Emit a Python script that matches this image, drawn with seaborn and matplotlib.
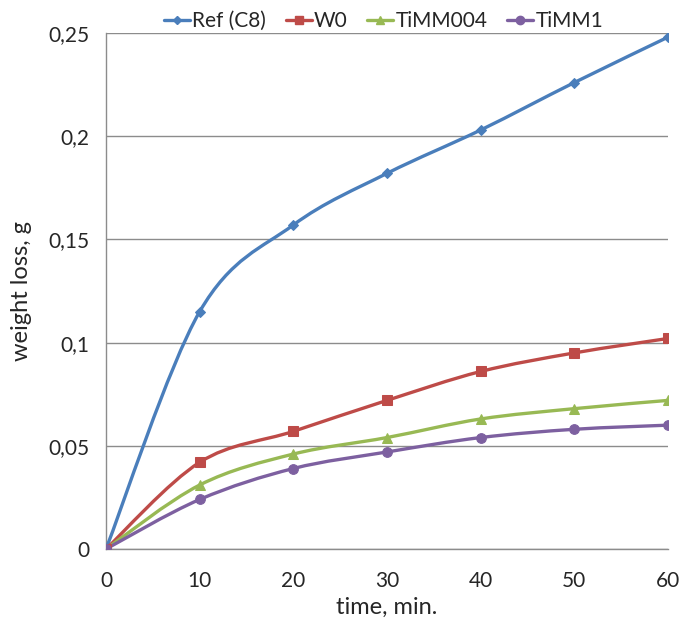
import numpy as np
import matplotlib
matplotlib.use("Agg")
import matplotlib.pyplot as plt
import seaborn as sns
from matplotlib.path import Path
from matplotlib.patches import PathPatch
from matplotlib.lines import Line2D

# data
time_min = [0, 10, 20, 30, 40, 50, 60]
ref_c8 = [0, 0.115, 0.157, 0.182, 0.203, 0.226, 0.248]
w0 = [0, 0.042, 0.057, 0.072, 0.086, 0.095, 0.102]
timm004 = [0, 0.031, 0.046, 0.054, 0.063, 0.068, 0.072]
timm1 = [0, 0.024, 0.039, 0.047, 0.054, 0.058, 0.060]

series_names = ["Ref (C8)", "W0", "TiMM004", "TiMM1"]
series_values = [ref_c8, w0, timm004, timm1]
colors = ["#4A7EBB", "#BE4B48", "#98B954", "#7D60A0"]
markers = ["D", "s", "^", "o"]
msizes = [5, 7, 7, 7]


def smooth_path(x, y, sx, sy):
    """Excel-like smoothed line: cubic Bezier through points, tangents
    computed in (roughly) screen space so the shape matches."""
    px = np.asarray(x, float) * sx
    py = np.asarray(y, float) * sy
    n = len(px)
    verts = [(px[0], py[0])]
    codes = [Path.MOVETO]
    for i in range(n - 1):
        p0 = np.array([px[max(i - 1, 0)], py[max(i - 1, 0)]])
        p1 = np.array([px[i], py[i]])
        p2 = np.array([px[i + 1], py[i + 1]])
        p3 = np.array([px[min(i + 2, n - 1)], py[min(i + 2, n - 1)]])
        c1 = p1 + (p2 - p0) / 6
        c2 = p2 - (p3 - p1) / 6
        verts += [tuple(c1), tuple(c2), tuple(p2)]
        codes += [Path.CURVE4] * 3
    verts = [(vx / sx, vy / sy) for vx, vy in verts]
    return Path(verts, codes)


sns.set_style("white")
plt.rcParams["font.family"] = ["Lato", "DejaVu Sans"]

fig = plt.figure(figsize=(6.85, 6.24), dpi=100)
ax = fig.add_axes([106 / 685, 75 / 624, 562 / 685, 516 / 624])

# screen-space scale for the smoothing (pixels per data unit)
sx, sy = 562 / 60, 516 / 0.25

for name, vals, c, m, ms in zip(series_names, series_values, colors, markers, msizes):
    patch = PathPatch(smooth_path(time_min, vals, sx, sy), facecolor="none",
                      edgecolor=c, lw=2.4, zorder=3, capstyle="round")
    ax.add_patch(patch)
    sns.lineplot(x=time_min, y=vals, ax=ax, color=c, marker=m, markersize=ms,
                 markeredgecolor=c, linewidth=0, zorder=4, legend=False)

ax.set_xlim(0, 60)
ax.set_ylim(0, 0.25)
ax.set_xticks(time_min)
yt = [0, 0.05, 0.1, 0.15, 0.2, 0.25]
ax.set_yticks(yt)
ax.set_yticklabels(["0", "0,05", "0,1", "0,15", "0,2", "0,25"])
ax.yaxis.grid(True, color="#8C8C8C", lw=1)
ax.xaxis.grid(False)
for s in ["top", "right"]:
    ax.spines[s].set_visible(False)
for s in ["left", "bottom"]:
    ax.spines[s].set_color("#8C8C8C")
    ax.spines[s].set_linewidth(1)
ax.tick_params(axis="both", direction="out", length=6, width=1, color="#8C8C8C",
               labelsize=15, pad=6)
ax.tick_params(axis="x", pad=10)
ax.set_xlabel("time, min.", fontsize=17, labelpad=4)
ax.set_ylabel("weight loss, g", fontsize=17, labelpad=12)
ax.set_clip_on(False)

handles = [Line2D([0], [0], color=c, marker=m, markersize=ms - 1, lw=2.4)
           for c, m, ms in zip(colors, markers, msizes)]
fig.legend(handles, series_names, loc="upper center", bbox_to_anchor=(0.56, 1.012),
           ncol=4, frameon=False, fontsize=15, handlelength=1.25,
           handletextpad=0.1, columnspacing=0.95)

fig.savefig("out.png", dpi=100)
